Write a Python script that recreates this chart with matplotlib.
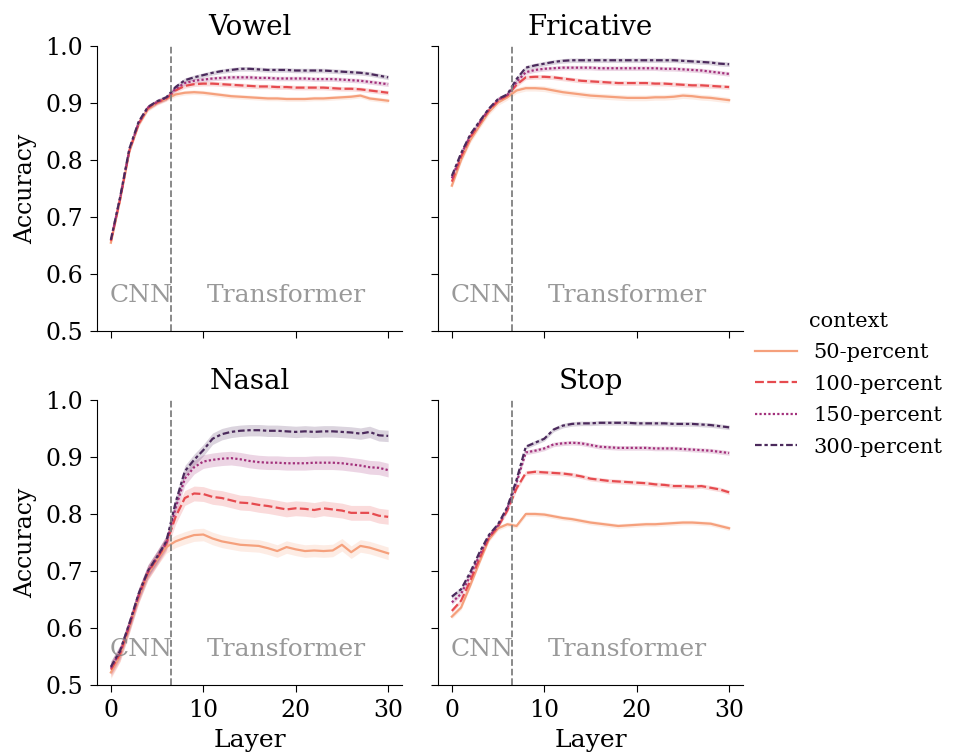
import matplotlib
matplotlib.use('Agg')
import matplotlib.pyplot as plt
import numpy as np

# layers 0..30
layers = list(range(31))
contexts = ['50-percent', '100-percent', '150-percent', '300-percent']
panels = ['Vowel', 'Fricative', 'Nasal', 'Stop']

vowel_50 = [0.655, 0.730, 0.815, 0.862, 0.889, 0.900, 0.907, 0.915, 0.918, 0.919, 0.918, 0.916, 0.914, 0.912, 0.911, 0.910,
            0.909, 0.908, 0.908, 0.907, 0.907, 0.907, 0.908, 0.908, 0.909, 0.910, 0.911, 0.913, 0.908, 0.906, 0.904]
vowel_100 = [0.658, 0.732, 0.817, 0.864, 0.891, 0.901, 0.908, 0.922, 0.930, 0.933, 0.934, 0.934, 0.933, 0.932, 0.931, 0.930,
             0.929, 0.929, 0.928, 0.928, 0.927, 0.927, 0.927, 0.927, 0.926, 0.925, 0.925, 0.924, 0.922, 0.920, 0.918]
vowel_150 = [0.660, 0.733, 0.818, 0.865, 0.892, 0.902, 0.909, 0.925, 0.935, 0.939, 0.941, 0.943, 0.944, 0.945, 0.945, 0.945,
             0.944, 0.944, 0.943, 0.943, 0.943, 0.943, 0.942, 0.942, 0.942, 0.941, 0.940, 0.939, 0.937, 0.935, 0.933]
vowel_300 = [0.660, 0.735, 0.820, 0.867, 0.893, 0.903, 0.910, 0.928, 0.940, 0.945, 0.949, 0.953, 0.956, 0.958, 0.960, 0.960,
             0.959, 0.958, 0.958, 0.958, 0.957, 0.957, 0.957, 0.957, 0.956, 0.955, 0.954, 0.953, 0.951, 0.948, 0.945]

fric_50 = [0.755, 0.800, 0.835, 0.860, 0.884, 0.901, 0.910, 0.922, 0.926, 0.926, 0.925, 0.922, 0.919, 0.917, 0.915, 0.913,
           0.912, 0.911, 0.910, 0.909, 0.909, 0.909, 0.910, 0.910, 0.911, 0.913, 0.912, 0.910, 0.909, 0.907, 0.905]
fric_100 = [0.762, 0.806, 0.840, 0.864, 0.887, 0.904, 0.913, 0.932, 0.945, 0.946, 0.946, 0.945, 0.943, 0.941, 0.939, 0.938,
            0.937, 0.936, 0.935, 0.935, 0.935, 0.935, 0.934, 0.934, 0.933, 0.932, 0.931, 0.931, 0.930, 0.929, 0.928]
fric_150 = [0.768, 0.810, 0.843, 0.866, 0.889, 0.906, 0.914, 0.937, 0.954, 0.958, 0.960, 0.961, 0.962, 0.962, 0.962, 0.962,
            0.961, 0.961, 0.961, 0.961, 0.961, 0.961, 0.961, 0.960, 0.960, 0.959, 0.958, 0.957, 0.955, 0.953, 0.951]
fric_300 = [0.772, 0.812, 0.845, 0.868, 0.890, 0.907, 0.915, 0.942, 0.962, 0.966, 0.969, 0.972, 0.974, 0.975, 0.975, 0.975,
            0.975, 0.975, 0.975, 0.975, 0.975, 0.975, 0.975, 0.975, 0.975, 0.974, 0.973, 0.972, 0.971, 0.969, 0.968]

nasal_50 = [0.522, 0.552, 0.602, 0.654, 0.695, 0.720, 0.742, 0.752, 0.758, 0.763, 0.764, 0.757, 0.752, 0.749, 0.746, 0.745,
            0.744, 0.740, 0.735, 0.742, 0.738, 0.735, 0.736, 0.735, 0.736, 0.746, 0.733, 0.744, 0.741, 0.736, 0.731]
nasal_100 = [0.527, 0.555, 0.604, 0.656, 0.697, 0.722, 0.748, 0.795, 0.828, 0.836, 0.835, 0.830, 0.828, 0.824, 0.820, 0.819,
             0.816, 0.814, 0.811, 0.808, 0.810, 0.809, 0.807, 0.810, 0.808, 0.806, 0.802, 0.802, 0.802, 0.797, 0.795]
nasal_150 = [0.530, 0.558, 0.606, 0.658, 0.699, 0.724, 0.750, 0.810, 0.862, 0.882, 0.892, 0.895, 0.897, 0.898, 0.896, 0.893,
             0.891, 0.890, 0.890, 0.889, 0.889, 0.889, 0.890, 0.890, 0.890, 0.889, 0.887, 0.885, 0.882, 0.881, 0.877]
nasal_300 = [0.532, 0.560, 0.608, 0.660, 0.700, 0.725, 0.752, 0.820, 0.875, 0.895, 0.912, 0.932, 0.940, 0.944, 0.946, 0.947,
             0.947, 0.946, 0.946, 0.945, 0.944, 0.945, 0.944, 0.945, 0.945, 0.944, 0.943, 0.941, 0.944, 0.938, 0.937]

stop_50 = [0.620, 0.636, 0.675, 0.716, 0.755, 0.775, 0.782, 0.779, 0.800, 0.800, 0.799, 0.796, 0.793, 0.791, 0.788, 0.785,
           0.783, 0.781, 0.779, 0.780, 0.781, 0.782, 0.782, 0.783, 0.784, 0.785, 0.785, 0.784, 0.783, 0.779, 0.775]
stop_100 = [0.630, 0.648, 0.683, 0.722, 0.758, 0.778, 0.806, 0.845, 0.872, 0.874, 0.873, 0.872, 0.871, 0.869, 0.866, 0.862,
            0.860, 0.858, 0.857, 0.856, 0.855, 0.854, 0.852, 0.851, 0.849, 0.849, 0.848, 0.849, 0.846, 0.843, 0.838]
stop_150 = [0.645, 0.660, 0.692, 0.728, 0.760, 0.780, 0.810, 0.855, 0.908, 0.911, 0.915, 0.922, 0.924, 0.925, 0.924, 0.921,
            0.918, 0.917, 0.916, 0.916, 0.916, 0.916, 0.915, 0.915, 0.915, 0.914, 0.913, 0.912, 0.911, 0.909, 0.907]
stop_300 = [0.655, 0.668, 0.698, 0.733, 0.763, 0.782, 0.812, 0.860, 0.918, 0.925, 0.932, 0.948, 0.955, 0.958, 0.959, 0.959,
            0.960, 0.960, 0.960, 0.960, 0.959, 0.959, 0.959, 0.959, 0.958, 0.958, 0.958, 0.957, 0.956, 0.954, 0.952]

# half width of the confidence band, per panel and context
vowel_ci = [0.004, 0.004, 0.004, 0.004]
fric_ci = [0.005, 0.004, 0.004, 0.004]
nasal_ci = [0.011, 0.013, 0.012, 0.010]
stop_ci = [0.004, 0.004, 0.004, 0.004]

series = {
    'Vowel': [vowel_50, vowel_100, vowel_150, vowel_300],
    'Fricative': [fric_50, fric_100, fric_150, fric_300],
    'Nasal': [nasal_50, nasal_100, nasal_150, nasal_300],
    'Stop': [stop_50, stop_100, stop_150, stop_300],
}
bands = {'Vowel': vowel_ci, 'Fricative': fric_ci, 'Nasal': nasal_ci, 'Stop': stop_ci}

colors = ['#f5a07c', '#e64b4f', '#a2307b', '#4b2a5c']
dashes = ['-', (0, (4, 1.5)), (0, (1, 1)), (0, (3, 1.25, 1.5, 1.25))]

plt.rcParams['font.family'] = 'DejaVu Serif'
plt.rcParams['font.size'] = 16

fig, axs = plt.subplots(2, 2, sharex=True, sharey=True, figsize=(9.54, 7.53), dpi=100)
fig.subplots_adjust(left=0.1017, right=0.7788, bottom=0.0903, top=0.9389, wspace=0.118, hspace=0.242)

for ax, name in zip(axs.flat, panels):
    for vals, ci, col, ls, lab in zip(series[name], bands[name], colors, dashes, contexts):
        vals = np.array(vals)
        ax.fill_between(layers, vals - ci, vals + ci, color=col, alpha=0.2, linewidth=0)
        ax.plot(layers, vals, color=col, linestyle=ls, linewidth=1.6, label=lab)
    ax.axvline(6.5, color='gray', linestyle='--', linewidth=1.3)
    ax.text(3.25, 0.562, 'CNN', color='gray', alpha=0.8, ha='center', va='center', fontsize=18)
    ax.text(19, 0.562, 'Transformer', color='gray', alpha=0.8, ha='center', va='center', fontsize=18)
    ax.set_title(name, fontsize=20, pad=8)
    ax.spines['top'].set_visible(False)
    ax.spines['right'].set_visible(False)
    ax.set_xlim(-1.5, 31.5)
    ax.set_ylim(0.5, 1.0)
    ax.set_xticks([0, 10, 20, 30])
    ax.set_yticks([0.5, 0.6, 0.7, 0.8, 0.9, 1.0])
    ax.tick_params(labelsize=17, length=5, pad=5)

for ax in axs[:, 0]:
    ax.set_ylabel('Accuracy', fontsize=17, labelpad=6)
for ax in axs[1, :]:
    ax.set_xlabel('Layer', fontsize=18, labelpad=5)

handles, labels = axs[0, 0].get_legend_handles_labels()
fig.legend(handles, labels, title='context', loc='center left', bbox_to_anchor=(0.772, 0.49),
           frameon=False, fontsize=15, title_fontsize=15, handlelength=2.0, labelspacing=0.6)

plt.savefig('out.png', dpi=100)
